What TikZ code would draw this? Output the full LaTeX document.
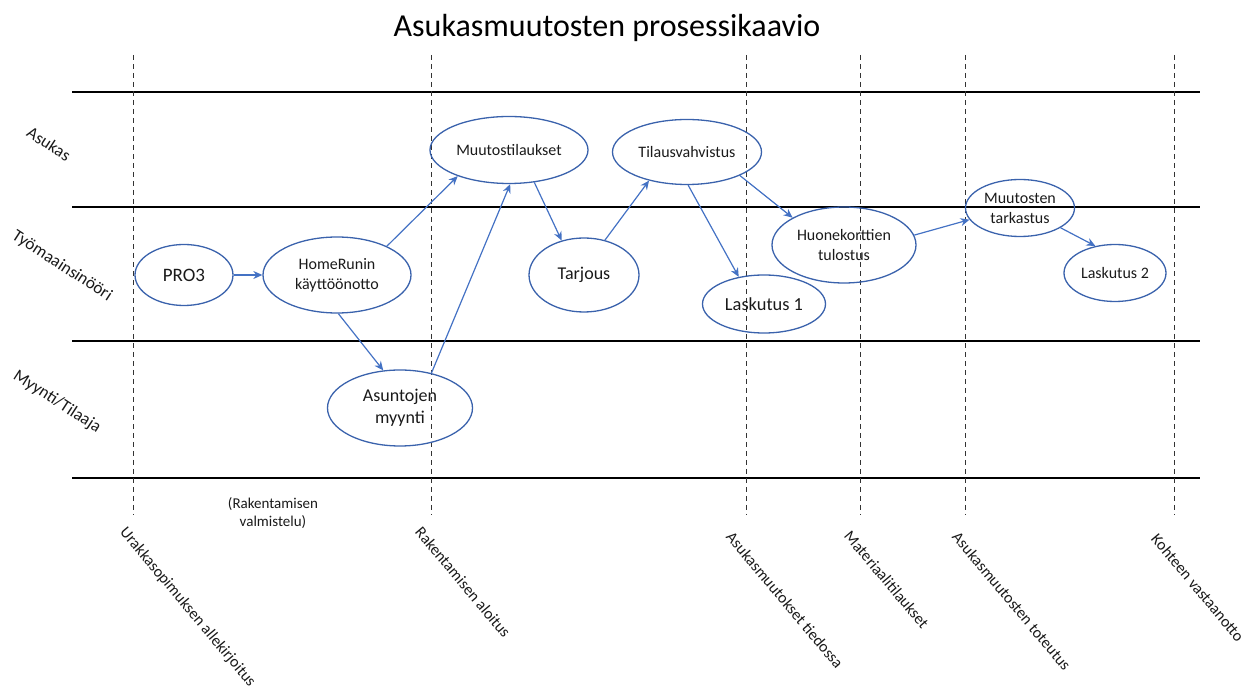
\documentclass[tikz,border=0pt]{standalone}
\usepackage{fontspec}
\setmainfont{Carlito}
\usetikzlibrary{shapes.geometric,arrows.meta}
\definecolor{ebl}{HTML}{4472C4}
\definecolor{eborder}{HTML}{3A62AC}
\definecolor{txt}{HTML}{1A1A1A}
\begin{document}
\begin{tikzpicture}[x=0.5pt,y=-0.5pt,
  proc/.style={ellipse,draw=eborder,line width=0.65pt,inner sep=0pt,align=center,text=txt},
  fs/.style={font=\fontsize{8}{10}\selectfont},
  fl/.style={font=\fontsize{9}{11}\selectfont},
  arr/.style={draw=ebl,line width=0.6pt,-{Stealth[length=4.5pt,width=4pt]}},
  lanerule/.style={line width=1.1pt,draw=black},
  mileline/.style={line width=0.5pt,draw=black!80,dash pattern=on 2.5pt off 2pt},
  milelabel/.style={rotate=-50,anchor=north west,inner sep=0pt,text=txt,font=\fontsize{8}{9}\selectfont},
  lanelabel/.style={inner sep=0pt,text=txt,rotate=-33,font=\fontsize{8.6}{10}\selectfont}]
\useasboundingbox (0,0) rectangle (1254,689);

% title
\node[text=black,font=\fontsize{16}{19}\selectfont] (title) at (607,28) {Asukasmuutosten prosessikaavio};

% lane rules
\foreach \yy in {92,207,341,478}
  \draw[lanerule] (72,\yy) -- (1200,\yy);

% milestone dashed lines
\foreach \xx in {133,431,746,860,965,1174}
  \draw[mileline] (\xx,55) -- (\xx,515);

% lane labels
\node[lanelabel] (lA) at (49,144) {Asukas};
\node[lanelabel] (lT) at (62,266) {Työmaainsinööri};
\node[lanelabel] (lM) at (57,402) {Myynti/Tilaaja};

% milestone labels
\node[milelabel] (m1) at (128,525) {Urakkasopimuksen allekirjoitus};
\node[milelabel] (m2) at (423,525) {Rakentamisen aloitus};
\node[milelabel] (m3) at (734,530) {Asukasmuutokset tiedossa};
\node[milelabel] (m4) at (852,529) {Materiaalitilaukset};
\node[milelabel] (m5) at (960,530) {Asukasmuutosten toteutus};
\node[milelabel] (m6) at (1159,532) {Kohteen vastaanotto};

\node[align=center,text=txt,inner sep=0pt,font=\fontsize{7.5}{9}\selectfont] (prep) at (273,513) {(Rakentamisen\\valmistelu)};

% process ellipses
\node[proc,minimum width=49pt,minimum height=30.5pt,font=\fontsize{9.5}{11}\selectfont] (pro) at (184,275) {PRO3};
\node[proc,fs,minimum width=74pt,minimum height=38pt] (home) at (337,275) {HomeRunin\\käyttöönotto};
\node[proc,fl,minimum width=72.5pt,minimum height=38pt] (asu) at (400,408) {Asuntojen\\myynti};
\node[proc,fs,minimum width=79pt,minimum height=33.5pt] (muu) at (509,150) {Muutostilaukset};
\node[proc,fs,minimum width=74.5pt,minimum height=32.5pt] (til) at (687,152) {Tilausvahvistus};
\node[proc,fl,minimum width=55pt,minimum height=37pt] (tar) at (584,275) {Tarjous};
\node[proc,minimum width=61.5pt,minimum height=29pt,font=\fontsize{9.2}{11}\selectfont] (las1) at (764,304) {Laskutus 1};
\node[proc,fs,minimum width=72pt,minimum height=38pt] (huo) at (844,245) {Huonekorttien\\tulostus};
\node[proc,fs,minimum width=54.5pt,minimum height=28.5pt] (mt) at (1020,208) {Muutosten\\tarkastus};
\node[proc,fs,minimum width=51pt,minimum height=28.5pt] (las2) at (1115,273) {Laskutus 2};

% connectors
\draw[arr] (pro.east) -- (home.west);
\draw[arr] (home.30) -- (muu.207);
\draw[arr] (home.272) -- (asu.114);
\draw[arr] (asu.48) -- (muu.272);
\draw[arr] (muu.308) -- (tar.123);
\draw[arr] (tar.59) -- (til.217);
\draw[arr] (til.272) -- (las1.133);
\draw[arr] (til.336) -- (huo.152);
\draw[arr] (huo.8) -- (mt.193);
\draw[arr] (mt.334) -- (las2.126);
\end{tikzpicture}
\end{document}
